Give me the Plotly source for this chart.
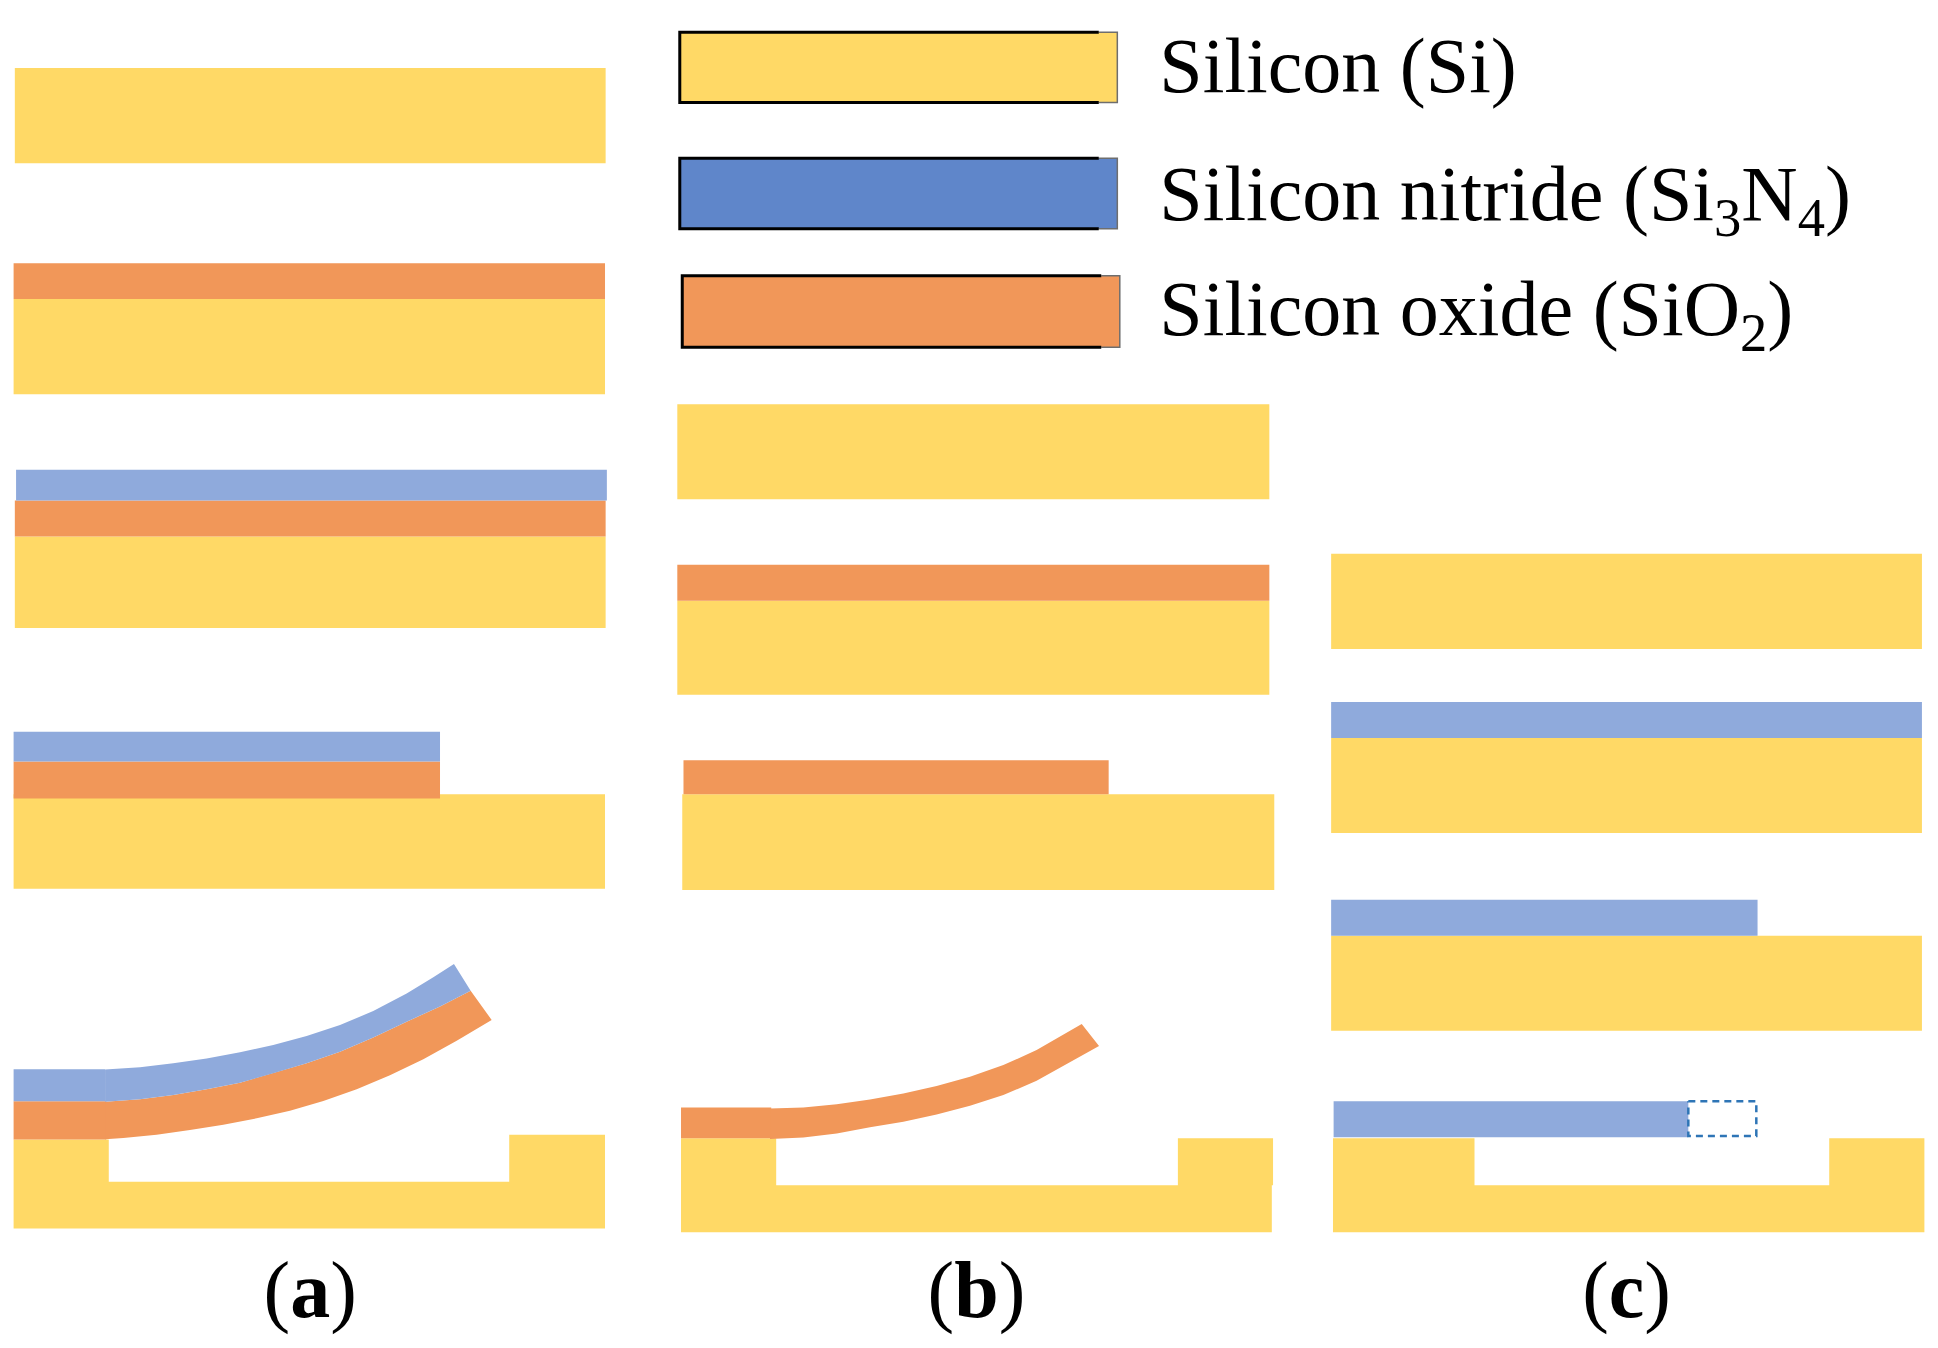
import plotly.graph_objects as go

# axis units follow the picture, x 0-1568 and y 0-1090.6 going down
SI_COLOR = '#FFD966'
OXIDE_COLOR = '#F19759'
NITRIDE_LIGHT = '#8FAADC'
NITRIDE_DARK = '#5F86CA'

# silicon layers, one entry per block
si_left = [12, 11, 12, 11, 11, 11, 412,
           548, 548, 552, 551, 551, 953,
           1077, 1077, 1077, 1078.5, 1078.5, 1480]
si_right = [490, 489.5, 490, 489.5, 489.5, 88, 489.5,
            1027, 1027, 1031, 1029, 628, 1030,
            1555, 1555, 1555, 1557, 1193, 1557]
si_top = [55, 242, 434, 642.5, 956, 922, 918,
          327, 486, 642.5, 959, 921, 921,
          448, 597, 757, 959, 921, 921]
si_bottom = [132, 319, 508, 719, 994, 956, 956,
             404, 562, 720, 997, 959, 959,
             525, 674, 834, 997, 959, 959]

# silicon oxide layers
ox_left = [11, 12, 11, 11, 548, 553, 551]
ox_right = [489.5, 490, 356, 86, 1027, 897, 624]
ox_top = [213, 405, 616, 891, 457, 615, 896]
ox_bottom = [242, 434, 646, 922, 486, 642.5, 921]

# silicon nitride layers
ni_left = [13, 11, 11, 1077, 1077, 1079]
ni_right = [491, 356, 85, 1555, 1422, 1366]
ni_top = [380, 592, 865, 568, 728, 891]
ni_bottom = [405, 616, 891, 597, 757, 920]

# bent cantilever edges in (a)
a_top_x = [85, 113.3, 140.2, 167.2, 194.2, 221.1, 248.1, 275.1, 302, 329, 350.6, 367.3]
a_top_y = [865.2, 863.5, 860.3, 856.3, 851.4, 845.5, 838.2, 829.3, 818, 803.7, 790.7, 780]
a_mid_x = [85, 113.3, 140.2, 167.2, 194.2, 221.1, 248.1, 275.1, 302, 329, 356, 380.8]
a_mid_y = [891.3, 889.4, 885.9, 881.3, 875.9, 868.4, 860.3, 850.9, 839.3, 826.6, 814.4, 801.5]
a_low_x = [85, 99.8, 126.7, 153.7, 180.7, 207.7, 234.6, 261.6, 288.6, 315.5, 342.5, 369.5, 397.8]
a_low_y = [921.8, 920.7, 918, 914.2, 909.9, 904.8, 898.6, 890.8, 881.3, 870, 857, 842, 825.2]

# bent cantilever edges in (b)
b_top_x = [623, 650, 677, 703.9, 730.9, 757.8, 784.8, 811.8, 838.7, 865.7, 875.2]
b_top_y = [896.8, 896, 893.3, 889.5, 884.6, 878.7, 871.1, 861.7, 849.6, 834, 828.5]
b_low_x = [623, 650, 677, 703.9, 730.9, 757.8, 784.8, 811.8, 838.7, 865.7, 889.2]
b_low_y = [921.6, 920.2, 917, 912.1, 907.5, 901.6, 894.6, 886, 874.4, 859.5, 846.3]

# etched part of the nitride beam in (c)
dash_x = [1366, 1421, 1421, 1366]
dash_y = [891, 891, 919, 919]

# legend
legend_left = [550, 550, 552]
legend_right = [904, 904, 906]
legend_top = [26, 128, 223]
legend_bottom = [83, 185, 281]
legend_colors = [SI_COLOR, NITRIDE_DARK, OXIDE_COLOR]
legend_labels = ['Silicon (Si)', 'Silicon nitride (Si<sub>3</sub>N<sub>4</sub>)',
                 'Silicon oxide (SiO<sub>2</sub>)']
legend_label_x = [938, 938, 938]
legend_label_y = [59, 162, 255]

panel_labels = ['(<b>a</b>)', '(<b>b</b>)', '(<b>c</b>)']
panel_x = [251, 790, 1316]
panel_y = [1049, 1049, 1049]


def boxes(left, right, top, bottom):
    """Turn layer edges into one gap separated outline"""
    xs, ys = [], []
    for x0, x1, y0, y1 in zip(left, right, top, bottom):
        xs += [x0, x1, x1, x0, x0, None]
        ys += [y0, y0, y1, y1, y0, None]
    return xs, ys


def add_fill(fig, xs, ys, color):
    fig.add_trace(go.Scatter(x=xs, y=ys, mode='lines', fill='toself', fillcolor=color,
                             line=dict(width=0, color=color), hoverinfo='skip', showlegend=False))


fig = go.Figure()

x, y = boxes(si_left, si_right, si_top, si_bottom)
add_fill(fig, x, y, SI_COLOR)
x, y = boxes(ox_left, ox_right, ox_top, ox_bottom)
add_fill(fig, x, y, OXIDE_COLOR)
add_fill(fig, a_mid_x + a_low_x[::-1], a_mid_y + a_low_y[::-1], OXIDE_COLOR)
add_fill(fig, b_top_x + b_low_x[::-1], b_top_y + b_low_y[::-1], OXIDE_COLOR)
x, y = boxes(ni_left, ni_right, ni_top, ni_bottom)
add_fill(fig, x, y, NITRIDE_LIGHT)
add_fill(fig, a_top_x + a_mid_x[::-1], a_top_y + a_mid_y[::-1], NITRIDE_LIGHT)

fig.add_trace(go.Scatter(x=dash_x + dash_x[:1], y=dash_y + dash_y[:1], mode='lines',
                         line=dict(color='#2E75B6', width=2.5, dash='7px,5px'),
                         hoverinfo='skip', showlegend=False))

# legend swatches: black frame stops short of the right end, thin grey edge after it
for i in range(3):
    x0, x1, y0, y1 = legend_left[i], legend_right[i], legend_top[i], legend_bottom[i]
    add_fill(fig, [x0, x1, x1, x0, x0], [y0, y0, y1, y1, y0], legend_colors[i])
    fig.add_trace(go.Scatter(x=[x1 - 15, x1, x1, x1 - 15], y=[y0, y0, y1, y1], mode='lines',
                             line=dict(color='#6E6E6E', width=1.5), hoverinfo='skip', showlegend=False))
    fig.add_trace(go.Scatter(x=[x1 - 15, x0, x0, x1 - 15], y=[y0, y0, y1, y1], mode='lines',
                             line=dict(color='black', width=3), hoverinfo='skip', showlegend=False))

fig.add_trace(go.Scatter(x=legend_label_x, y=legend_label_y, text=legend_labels, mode='text',
                         textposition='middle right', hoverinfo='skip', showlegend=False,
                         textfont=dict(family='Liberation Serif', size=78, color='black')))
fig.add_trace(go.Scatter(x=panel_x, y=panel_y, text=panel_labels, mode='text',
                         textposition='middle center', hoverinfo='skip', showlegend=False,
                         textfont=dict(family='Liberation Serif', size=80, color='black')))

fig.update_xaxes(range=[0, 1568], visible=False)
fig.update_yaxes(range=[1090.6, 0], visible=False)
fig.update_layout(width=1938, height=1348, margin=dict(l=0, r=0, t=0, b=0),
                  paper_bgcolor='white', plot_bgcolor='white', showlegend=False)

fig.write_html("out.html", config={'displayModeBar': False},
               post_script="document.body.style.margin='0';")
